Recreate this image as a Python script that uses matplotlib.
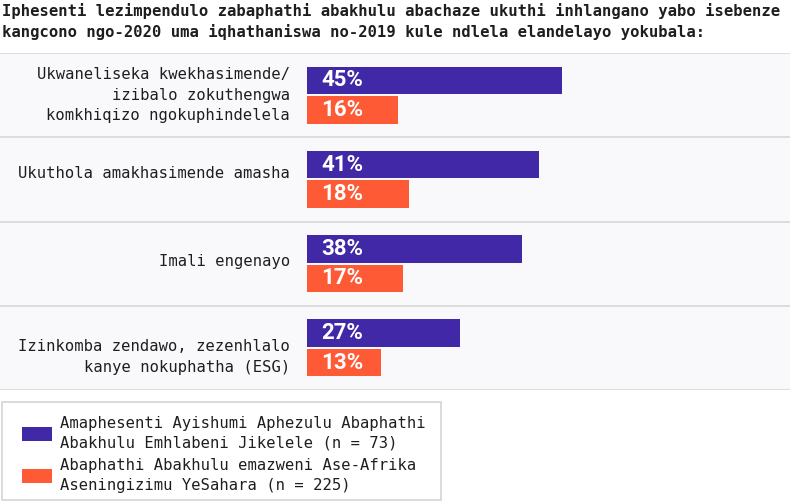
import matplotlib.pyplot as plt
from matplotlib.patches import Patch, Rectangle
import numpy as np

# ── data ────────────────────────────────────────────────────────────────────
TITLE = ("Iphesenti lezimpendulo zabaphathi abakhulu abachaze ukuthi inhlangano yabo isebenze\n"
         "kangcono ngo-2020 uma iqhathaniswa no-2019 kule ndlela elandelayo yokubala:")
categories = [
    "Ukwaneliseka kwekhasimende/\nizibalo zokuthengwa\nkomkhiqizo ngokuphindelela",
    "Ukuthola amakhasimende amasha",
    "Imali engenayo",
    "Izinkomba zendawo, zezenhlalo\nkanye nokuphatha (ESG)",
]
global_top10 = [45, 41, 38, 27]
ssa_execs = [16, 18, 17, 13]
series_labels = [
    "Amaphesenti Ayishumi Aphezulu Abaphathi\nAbakhulu Emhlabeni Jikelele (n = 73)",
    "Abaphathi Abakhulu emazweni Ase-Afrika\nAseningizimu YeSahara (n = 225)",
]

# ── style ───────────────────────────────────────────────────────────────────
PURPLE = '#4128A7'
ORANGE = '#FF5A36'
BG = '#F9F9FB'
GRID = '#D8D8D8'
TXT = '#1E1E1E'
MONO = 'DejaVu Sans Mono'
VALFONT = ['Roboto', 'DejaVu Sans']
label_dy = [0.0, -0.07, -0.03, 0.11]   # small nudges of the category labels

W, H = 790, 501
fig = plt.figure(figsize=(W / 100, H / 100), dpi=100)
fig.patch.set_facecolor('white')

px_per_pct = 255 / 45
x0_px = 307
ax = fig.add_axes([0, (H - 390) / H, 1, (390 - 53) / H])
ax.set_facecolor(BG)
ax.set_xlim(-x0_px / px_per_pct, (W - x0_px) / px_per_pct)
ax.set_ylim(len(categories), 0)
for s in ax.spines.values():
    s.set_visible(False)
ax.set_xticks([]); ax.set_yticks([])

bar_h = 0.326
off = 0.175
y = np.arange(len(categories)) + 0.5
ax.barh(y - off, global_top10, height=bar_h, color=PURPLE)
ax.barh(y + off, ssa_execs, height=bar_h, color=ORANGE)

for i in range(len(categories) + 1):
    ax.axhline(i, color=GRID, lw=1.2)

pad = 14 / px_per_pct
for yi, v in zip(y - off, global_top10):
    ax.text(pad, yi, f'{v}%', color='white', fontweight='bold', family=VALFONT,
            fontsize=16, va='center', ha='left')
for yi, v in zip(y + off, ssa_execs):
    ax.text(pad, yi, f'{v}%', color='white', fontweight='bold', family=VALFONT,
            fontsize=16, va='center', ha='left')

for yi, lab, dy in zip(y, categories, label_dy):
    ax.text(-17 / px_per_pct, yi + dy, lab, ha='right', va='center', family=MONO,
            fontsize=11.2, color=TXT, linespacing=1.46)

fig.text(2 / W, 1 - 3 / H, TITLE, ha='left', va='top', family=MONO, fontweight='bold',
         fontsize=11.2, color=TXT, linespacing=1.4)

# legend frame drawn separately so the inner padding can differ per side
fig.add_artist(Rectangle((2 / W, 1 / H), 439 / W, 98 / H, transform=fig.transFigure,
                         facecolor='white', edgecolor='#D4D4D4', lw=1.2))
handles = [Patch(facecolor=PURPLE, edgecolor='none'), Patch(facecolor=ORANGE, edgecolor='none')]
leg = fig.legend(handles, series_labels, loc='lower left', bbox_to_anchor=(22 / W, 8 / H),
                 prop={'family': MONO, 'size': 11.2}, frameon=False,
                 handlelength=1.95, handleheight=1.0, handletextpad=0.52,
                 borderpad=0, labelspacing=0.5, borderaxespad=0)
for t in leg.get_texts():
    t.set_color(TXT)
    t.set_linespacing(1.38)

fig.savefig('out.png', dpi=100)
